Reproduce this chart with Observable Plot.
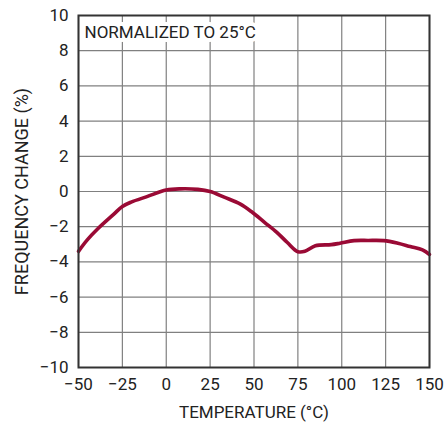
<!DOCTYPE html>
<html>
<head>
<meta charset="utf-8">
<script src="https://cdn.jsdelivr.net/npm/d3@7"></script>
<script src="https://cdn.jsdelivr.net/npm/@observablehq/plot@0.6"></script>
<style>
  html, body { margin: 0; padding: 0; background: #fff; }
  #chart svg { display: block; }
</style>
</head>
<body>
<div id="chart"></div>
<script>
// Oscillator frequency drift vs. temperature, normalized to 25°C
const temperature = [-50, -45, -39, -30, -25, -20, -11, 0, 8, 18, 25, 33, 42, 49, 56, 63, 69, 75, 79, 85, 94, 99, 107, 115, 124, 132, 139, 146, 150];
const freqChange = [-3.4, -2.75, -2.12, -1.3, -0.85, -0.6, -0.29, 0.08, 0.15, 0.12, 0, -0.32, -0.7, -1.18, -1.75, -2.32, -2.9, -3.42, -3.4, -3.08, -3.02, -2.94, -2.79, -2.78, -2.79, -2.94, -3.13, -3.32, -3.58];

const xTicks = [-50, -25, 0, 25, 50, 75, 100, 125, 150];
const yTicks = [-10, -8, -6, -4, -2, 0, 2, 4, 6, 8, 10];
const note = "NORMALIZED TO 25°C";

const rows = temperature.map((t, i) => ({t, f: freqChange[i]}));

const font = "'Roboto', 'Liberation Sans', sans-serif";

const chart = Plot.plot({
  width: 447,
  height: 423,
  marginLeft: 78,
  marginTop: 15,
  marginRight: 18,
  marginBottom: 56,
  style: {fontFamily: font, fontSize: "17px", color: "#222", background: "#fff"},
  x: {domain: [-50, 150], ticks: xTicks, label: null},
  y: {domain: [-10, 10], ticks: yTicks, label: null},
  marks: [
    Plot.gridX(xTicks, {stroke: "#808080", strokeOpacity: 1, strokeWidth: 1.2}),
    Plot.gridY(yTicks, {stroke: "#808080", strokeOpacity: 1, strokeWidth: 1.2}),
    Plot.axisX(xTicks, {tickSize: 0, tickPadding: 10, fontSize: 17, fill: "#222"}),
    Plot.axisY(yTicks, {tickSize: 0, tickPadding: 10, fontSize: 17, fill: "#222"}),
    Plot.axisX({tickSize: 0, ticks: [], label: "TEMPERATURE (°C)", labelAnchor: "center", labelOffset: 50, labelArrow: "none", fontSize: 17, fill: "#222"}),
    Plot.axisY({tickSize: 0, ticks: [], label: "FREQUENCY CHANGE (%)", labelAnchor: "center", labelOffset: 63, labelArrow: "none", fontSize: 18, fill: "#222"}),
    Plot.text([note], {x: -50, y: 10, dx: 6, dy: 17, text: d => d, textAnchor: "start", lineAnchor: "middle", fontSize: 17, fill: "#222", stroke: "white", strokeWidth: 8}),
    Plot.line(rows, {x: "t", y: "f", curve: "catmull-rom", stroke: "#9a0a35", strokeWidth: 3.6, strokeLinecap: "round"}),
    Plot.frame({stroke: "#333", strokeWidth: 2})
  ]
});

document.getElementById("chart").append(chart);
</script>
</body>
</html>
